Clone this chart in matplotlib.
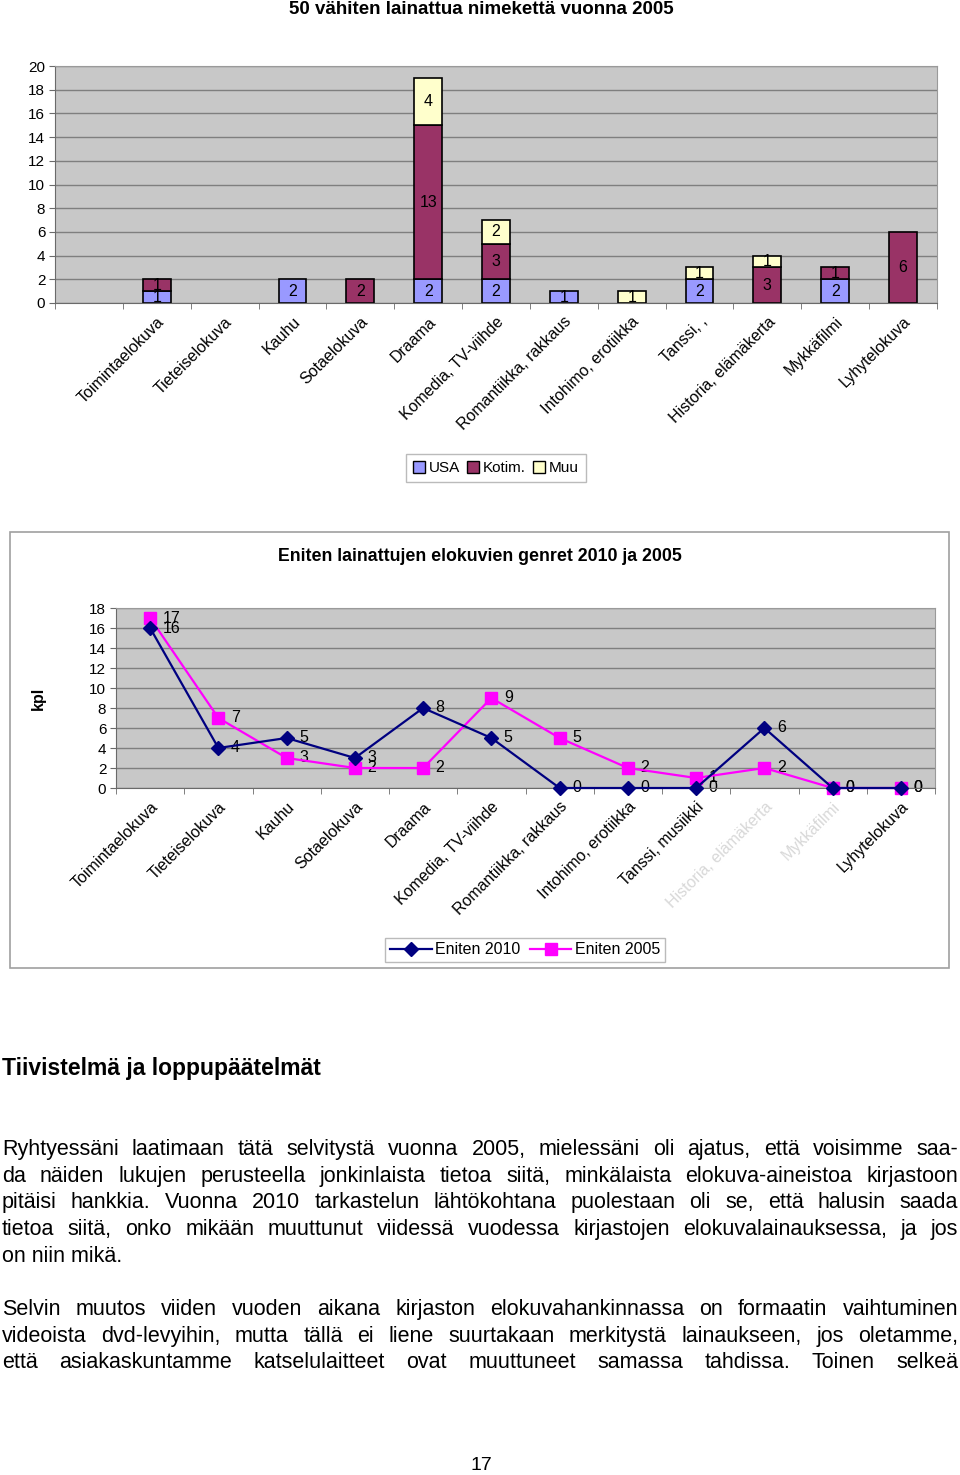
import matplotlib
matplotlib.use("Agg")
import matplotlib.pyplot as plt
from matplotlib.patches import Patch, Rectangle
from matplotlib.lines import Line2D
import numpy as np

plt.rcParams['font.family'] = ['Liberation Sans', 'DejaVu Sans']

# ---- data: bar chart (50 least loaned titles 2005) ----
bar_labels = ["", "Toimintaelokuva", "Tieteiselokuva", "Kauhu", "Sotaelokuva", "Draama",
              "Komedia, TV-viihde", "Romantiikka, rakkaus", "Intohimo, erotiikka",
              "Tanssi, ,", "Historia, elämäkerta", "Mykkäfilmi", "Lyhytelokuva"]
usa = [0, 1, 0, 2, 0, 2, 2, 1, 0, 2, 0, 2, 0]
kotim = [0, 1, 0, 0, 2, 13, 3, 0, 0, 0, 3, 1, 6]
muu = [0, 0, 0, 0, 0, 4, 2, 0, 1, 1, 1, 0, 0]

# ---- data: line chart (most loaned genres 2010 and 2005) ----
line_labels = ["Toimintaelokuva", "Tieteiselokuva", "Kauhu", "Sotaelokuva", "Draama",
               "Komedia, TV-viihde", "Romantiikka, rakkaus", "Intohimo, erotiikka",
               "Tanssi, musiikki", "Historia, elämäkerta", "Mykkäfilmi", "Lyhytelokuva"]
eniten_2010 = [16, 4, 5, 3, 8, 5, 0, 0, 0, 6, 0, 0]
eniten_2005 = [17, 7, 3, 2, 2, 9, 5, 2, 1, 2, 0, 0]

W, H = 960, 1475
fig = plt.figure(figsize=(W / 100, H / 100), dpi=100)
fig.patch.set_facecolor("white")


def rect(x0, y0, x1, y1):
    return [x0 / W, 1 - y1 / H, (x1 - x0) / W, (y1 - y0) / H]


def fy(y):
    return 1 - y / H


GRID = "#7f7f7f"
BG = "#c8c8c8"
LAB = 11.5


def style_axes(ax, n, ymax, step):
    ax.set_facecolor(BG)
    ax.set_xlim(-0.5, n - 0.5)
    ax.set_ylim(0, ymax)
    ax.set_yticks(np.arange(0, ymax + 1, step))
    ax.yaxis.grid(True, color=GRID, lw=1)
    ax.set_axisbelow(True)
    for s in ["top", "right"]:
        ax.spines[s].set_color("#9a9a9a")
    for s in ["left", "bottom"]:
        ax.spines[s].set_color("#6a6a6a")
    ax.tick_params(axis="y", labelsize=11, length=4, color="#6a6a6a", pad=3)
    ax.set_xticks(np.arange(n))
    ax.set_xticks(np.arange(n + 1) - 0.5, minor=True)
    ax.tick_params(axis="x", which="major", length=0, pad=8)
    ax.tick_params(axis="x", which="minor", length=4, color="#6a6a6a")


# ---------------- bar chart ----------------
fig.text(481 / W, fy(10), "50 vähiten lainattua nimekettä vuonna 2005",
         ha="center", va="center", fontsize=13.5, fontweight="bold")

ax1 = fig.add_axes(rect(55, 66, 937, 303))
style_axes(ax1, len(bar_labels), 20, 2)
x = np.arange(len(bar_labels))
bw = 0.41
series = [(usa, "#9999ff", "USA"), (kotim, "#993366", "Kotim."), (muu, "#ffffcc", "Muu")]
bottom = np.zeros(len(bar_labels))
for vals, col, name in series:
    vals = np.array(vals, dtype=float)
    for i, v in enumerate(vals):
        if v > 0:
            ax1.bar(x[i], v, bw, bottom=bottom[i], color=col, edgecolor="black", lw=1.2)
            ax1.text(x[i], bottom[i] + v / 2, f"{int(v)}", ha="center", va="center",
                     fontsize=11.5)
    bottom += vals
ax1.set_xticklabels(bar_labels, rotation=45, ha="right", va="top",
                    rotation_mode="anchor", fontsize=LAB)

handles = [Patch(facecolor=c, edgecolor="black", lw=1) for _, c, _ in series]
fig.legend(handles, [n for _, _, n in series], loc="center",
           bbox_to_anchor=(496 / W, fy(468)), ncol=3, fontsize=11,
           frameon=True, fancybox=False, edgecolor="#aaaaaa", handlelength=0.8,
           handleheight=0.8, handletextpad=0.25, columnspacing=0.45,
           borderpad=0.45, borderaxespad=0)

# ---------------- line chart ----------------
fig.add_artist(Rectangle((10 / W, fy(968)), 939 / W, 436 / H, transform=fig.transFigure,
                         facecolor="none", edgecolor="#a0a0a0", lw=1.2))
fig.text(480 / W, fy(556), "Eniten lainattujen elokuvien genret 2010 ja 2005",
         ha="center", va="center", fontsize=12.8, fontweight="bold")
fig.text(38 / W, fy(698), "kpl", ha="center", va="center", rotation=90,
         fontsize=11.5, fontweight="bold")

ax2 = fig.add_axes(rect(116, 608, 935, 788))
style_axes(ax2, len(line_labels), 18, 2)
xl = np.arange(len(line_labels))
ax2.plot(xl, eniten_2005, color="#ff00ff", lw=1.6, marker="s", ms=9, mec="#ff00ff",
         label="Eniten 2005", zorder=3)
ax2.plot(xl, eniten_2010, color="#000080", lw=1.6, marker="D", ms=7, mec="#000080",
         label="Eniten 2010", zorder=4)
for vals in (eniten_2010, eniten_2005):
    for i, v in enumerate(vals):
        ax2.annotate(f"{v}", (xl[i], v), xytext=(9, 0), textcoords="offset points",
                     ha="left", va="center", fontsize=11.5, zorder=2)
ax2.set_xticklabels(line_labels, rotation=45, ha="right", va="top",
                    rotation_mode="anchor", fontsize=LAB)
for lab in ax2.get_xticklabels()[9:11]:
    lab.set_color("#d8d8d8")
for ln in ax2.lines:
    ln.set_clip_on(False)

h2 = [Line2D([], [], color="#000080", lw=1.6, marker="D", ms=7),
      Line2D([], [], color="#ff00ff", lw=1.6, marker="s", ms=8)]
fig.legend(h2, ["Eniten 2010", "Eniten 2005"], loc="center",
           bbox_to_anchor=(525 / W, fy(950)), ncol=2, fontsize=11.5,
           frameon=True, fancybox=False, edgecolor="#aaaaaa", handlelength=2.6,
           handletextpad=0.2, columnspacing=0.6, borderpad=0.3, borderaxespad=0)

# ---------------- text ----------------
fig.text(2 / W, fy(1069), "Tiivistelmä ja loppupäätelmät", ha="left", va="center",
         fontsize=16.5, fontweight="bold")

para1 = ["Ryhtyessäni laatimaan tätä selvitystä vuonna 2005, mielessäni oli ajatus, että voisimme saa-",
         "da näiden lukujen perusteella jonkinlaista tietoa siitä, minkälaista elokuva-aineistoa kirjastoon",
         "pitäisi hankkia. Vuonna 2010 tarkastelun lähtökohtana puolestaan oli se, että halusin saada",
         "tietoa siitä, onko mikään muuttunut viidessä vuodessa kirjastojen elokuvalainauksessa, ja jos",
         "on niin mikä."]
para2 = ["Selvin muutos viiden vuoden aikana kirjaston elokuvahankinnassa on formaatin vaihtuminen",
         "videoista dvd-levyihin, mutta tällä ei liene suurtakaan merkitystä lainaukseen, jos oletamme,",
         "että asiakaskuntamme katselulaitteet ovat muuttuneet samassa tahdissa. Toinen selkeä"]

renderer = fig.canvas.get_renderer()


def justify(line, y, size, last=False, x0=2, x1=958):
    # y is the baseline in pixels from the top
    if last:
        fig.text(x0 / W, fy(y), line, ha="left", va="baseline", fontsize=size)
        return
    words = line.split()
    texts = [fig.text(0, fy(y), w, ha="left", va="baseline", fontsize=size) for w in words]
    widths = [t.get_window_extent(renderer).width for t in texts]
    gap = (x1 - x0 - sum(widths)) / (len(words) - 1)
    xx = x0
    for t, w in zip(texts, widths):
        t.set_x(xx / W)
        xx += w + gap


# pick a body size that keeps every justified line from overflowing
body = 15.5
probe = fig.text(0, 0, "", fontsize=body)
while True:
    probe.set_fontsize(body)
    widest = 0
    for line in para1[:-1] + para2:
        probe.set_text(line)
        widest = max(widest, probe.get_window_extent(renderer).width)
    if widest <= 950 or body < 11:
        break
    body -= 0.25
probe.remove()

y = 1155
for i, line in enumerate(para1):
    justify(line, y, body, last=(i == len(para1) - 1))
    y += 26.7
y = 1315
for line in para2:
    justify(line, y, body)
    y += 26.7

fig.text(481 / W, fy(1465), "17", ha="center", va="center", fontsize=14)

fig.savefig("out.png", dpi=100, facecolor="white")
